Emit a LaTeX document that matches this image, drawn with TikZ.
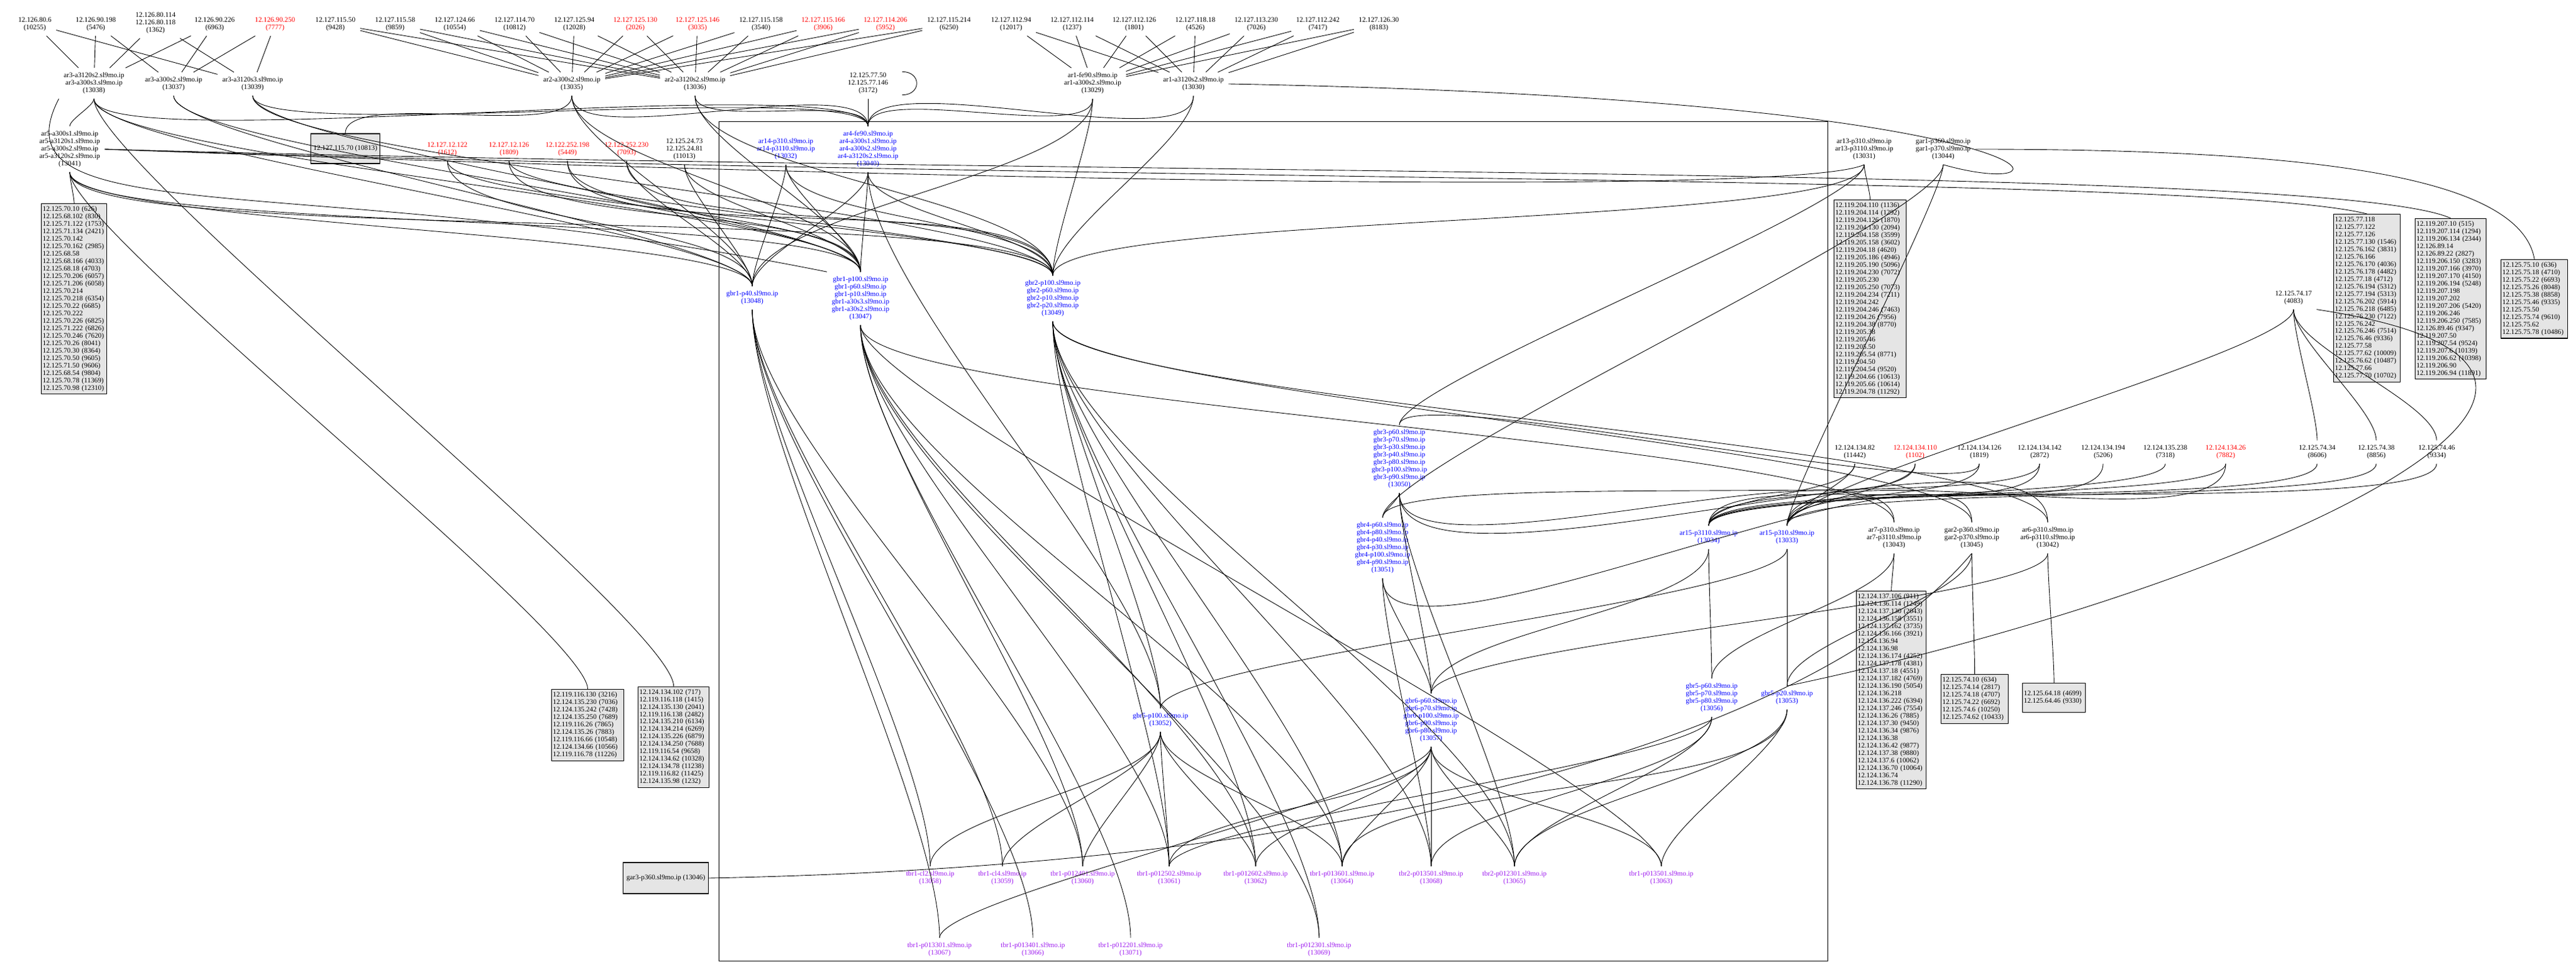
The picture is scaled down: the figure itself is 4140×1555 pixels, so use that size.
\documentclass[tikz,border=0pt]{standalone}
\usepackage{fontspec}
\setmainfont{Liberation Serif}
\usepackage{xcolor}
\usepackage{tikz}
\definecolor{boxgray}{HTML}{E5E5E5}
\definecolor{tbrviolet}{HTML}{A020F0}

\begin{document}
\begin{tikzpicture}[
			x = 0.1mm, y = -0.1mm,
			every node/.style = {font=\fontsize{3.2}{3.41}\selectfont, inner sep=2pt},
			host/.style = {align=center},
			core/.style = {align=center, text=blue},
			tbr/.style = {align=center, text=tbrviolet},
			ipbox/.style = {draw, fill=boxgray, align=left, anchor=north west, inner xsep=0.6pt, inner ysep=1.2pt, line width=0.3pt},
			link/.style = {line width=0.25pt},
			drop/.style = {out=270, in=90, looseness=0.5},
			flat/.style = {out=270, in=90, looseness=0.2}
			]

			\fill[white] (0,0) rectangle (4140,1555);
			\useasboundingbox (0,0) rectangle (4140,1555);

			\draw[line width=0.25pt] (1155,195) rectangle (2937,1545);

			% top row
			\foreach \n/\x/\ip/\col in {10255/56/12.126.80.6/black, 5476/154/12.126.90.198/black, 6963/345/12.126.90.226/black, 7777/442/12.126.90.250/red, 9428/539/12.127.115.50/black, 9859/635/12.127.115.58/black, 10554/731/12.127.124.66/black, 10812/827/12.127.114.70/black, 12028/923/12.127.125.94/black, 2026/1021/12.127.125.130/red, 3035/1121/12.127.125.146/red, 3540/1223/12.127.115.158/black, 3906/1323/12.127.115.166/red, 5952/1423/12.127.114.206/red, 6250/1525/12.127.115.214/black, 12017/1625/12.127.112.94/black, 1237/1723/12.127.112.114/black, 1801/1823/12.127.112.126/black, 4526/1921/12.127.118.18/black, 7026/2019/12.127.113.230/black, 7417/2118/12.127.112.242/black, 8183/2216/12.127.126.30/black}{
				\node[host, text=\col] (h\n) at (\x,39) {\ip\\(\n)};
			}
			\node[host] (h1362) at (250,37) {12.126.80.114\\12.126.80.118\\(1362)};

			\node[host] (r13038) at (151,134) {ar3-a3120s2.sl9mo.ip\\ar3-a300s3.sl9mo.ip\\(13038)};
			\node[host] (r13037) at (279,135) {ar3-a300s2.sl9mo.ip\\(13037)};
			\node[host] (r13039) at (406,135) {ar3-a3120s3.sl9mo.ip\\(13039)};
			\node[host] (r13035) at (919,135) {ar2-a300s2.sl9mo.ip\\(13035)};
			\node[host] (r13036) at (1117,135) {ar2-a3120s2.sl9mo.ip\\(13036)};
			\node[host] (h3172) at (1395,134) {12.125.77.50\\12.125.77.146\\(3172)};
			\node[host] (r13029) at (1756,134) {ar1-fe90.sl9mo.ip\\ar1-a300s2.sl9mo.ip\\(13029)};
			\node[host] (r13030) at (1918,135) {ar1-a3120s2.sl9mo.ip\\(13030)};

			\node[host] (r13041) at (112,240) {ar5-a300s1.sl9mo.ip\\ar5-a3120s1.sl9mo.ip\\ar5-a300s2.sl9mo.ip\\ar5-a3120s2.sl9mo.ip\\(13041)};
			\node[draw, fill=boxgray, minimum width=11.1mm, minimum height=4.8mm, inner sep=0.5pt, line width=0.3pt] (b10813) at (555,239) {12.127.115.70 (10813)};
			\foreach \n/\x/\ip in {1612/719/12.127.12.122, 1809/818/12.127.12.126, 5449/912/12.122.252.198, 7093/1007/12.122.252.230}{
				\node[host, text=red] (h\n) at (\x,240) {\ip\\(\n)};
			}
			\node[host] (h11013) at (1100,240) {12.125.24.73\\12.125.24.81\\(11013)};
			\node[core] (r13032) at (1263,240) {ar14-p310.sl9mo.ip\\ar14-p3110.sl9mo.ip\\(13032)};
			\node[core] (r13040) at (1395,240) {ar4-fe90.sl9mo.ip\\ar4-a300s1.sl9mo.ip\\ar4-a300s2.sl9mo.ip\\ar4-a3120s2.sl9mo.ip\\(13040)};
			\node[host] (r13031) at (2996,240) {ar13-p310.sl9mo.ip\\ar13-p3110.sl9mo.ip\\(13031)};
			\node[host] (r13044) at (3123,240) {gar1-p360.sl9mo.ip\\gar1-p370.sl9mo.ip\\(13044)};

			% cluster
			\node[core] (g13048) at (1209,479) {gbr1-p40.sl9mo.ip\\(13048)};
			\node[core] (g13047) at (1383,480) {gbr1-p100.sl9mo.ip\\gbr1-p60.sl9mo.ip\\gbr1-p10.sl9mo.ip\\gbr1-a30s3.sl9mo.ip\\gbr1-a30s2.sl9mo.ip\\(13047)};
			\node[core] (g13049) at (1692,480) {gbr2-p100.sl9mo.ip\\gbr2-p60.sl9mo.ip\\gbr2-p10.sl9mo.ip\\gbr2-p20.sl9mo.ip\\(13049)};
			\node[core] (g13050) at (2249,738) {gbr3-p60.sl9mo.ip\\gbr3-p70.sl9mo.ip\\gbr3-p30.sl9mo.ip\\gbr3-p40.sl9mo.ip\\gbr3-p80.sl9mo.ip\\gbr3-p100.sl9mo.ip\\gbr3-p90.sl9mo.ip\\(13050)};
			\node[core] (g13051) at (2222,881) {gbr4-p60.sl9mo.ip\\gbr4-p80.sl9mo.ip\\gbr4-p40.sl9mo.ip\\gbr4-p30.sl9mo.ip\\gbr4-p100.sl9mo.ip\\gbr4-p90.sl9mo.ip\\(13051)};
			\node[core] (r13034) at (2746,864) {ar15-p3110.sl9mo.ip\\(13034)};
			\node[core] (r13033) at (2872,864) {ar15-p310.sl9mo.ip\\(13033)};
			\node[core] (g13052) at (1865,1158) {gbr5-p100.sl9mo.ip\\(13052)};
			\node[core] (g13057) at (2300,1158) {gbr6-p60.sl9mo.ip\\gbr6-p70.sl9mo.ip\\gbr6-p100.sl9mo.ip\\gbr6-p90.sl9mo.ip\\gbr6-p80.sl9mo.ip\\(13057)};
			\node[core] (g13056) at (2751,1122) {gbr5-p60.sl9mo.ip\\gbr5-p70.sl9mo.ip\\gbr5-p80.sl9mo.ip\\(13056)};
			\node[core] (g13053) at (2872,1122) {gbr5-p20.sl9mo.ip\\(13053)};
			\foreach \n/\x/\nm in {13058/1495/tbr1-cl2, 13059/1611/tbr1-cl4, 13060/1740/tbr1-p012401, 13061/1879/tbr1-p012502, 13062/2018/tbr1-p012602, 13064/2157/tbr1-p013601, 13068/2300/tbr2-p013501, 13065/2434/tbr2-p012301, 13063/2670/tbr1-p013501}{
				\node[tbr] (t\n) at (\x,1412) {\nm.sl9mo.ip\\(\n)};
			}
			\foreach \n/\x/\nm in {13067/1510/tbr1-p013301, 13066/1660/tbr1-p013401, 13071/1817/tbr1-p012201, 13069/2120/tbr1-p012301}{
				\node[tbr] (t\n) at (\x,1527) {\nm.sl9mo.ip\\(\n)};
			}

			% right side
			\node[host] (h4083) at (3686,479) {12.125.74.17\\(4083)};
			\foreach \n/\x/\ip/\col in {11442/2981/12.124.134.82/black, 1102/3078/12.124.134.110/red, 1819/3181/12.124.134.126/black, 2872/3278/12.124.134.142/black, 5206/3380/12.124.134.194/black, 7318/3480/12.124.135.238/black, 7882/3577/12.124.134.26/red, 8606/3724/12.125.74.34/black, 8856/3819/12.125.74.38/black, 9334/3916/12.125.74.46/black}{
				\node[host, text=\col] (h\n) at (\x,727) {\ip\\(\n)};
			}
			\node[host] (r13043) at (3044,865) {ar7-p310.sl9mo.ip\\ar7-p3110.sl9mo.ip\\(13043)};
			\node[host] (r13045) at (3169,865) {gar2-p360.sl9mo.ip\\gar2-p370.sl9mo.ip\\(13045)};
			\node[host] (r13042) at (3291,865) {ar6-p310.sl9mo.ip\\ar6-p3110.sl9mo.ip\\(13042)};

			% address lists
			\node[ipbox, text width=10.1mm] (lst626) at (66,327) {12.125.70.10~(626)\\12.125.68.102~(830)\\12.125.71.122~(1753)\\12.125.71.134~(2421)\\12.125.70.142\\12.125.70.162~(2985)\\12.125.68.58\\12.125.68.166~(4033)\\12.125.68.18~(4703)\\12.125.70.206~(6057)\\12.125.71.206~(6058)\\12.125.70.214\\12.125.70.218~(6354)\\12.125.70.22~(6685)\\12.125.70.222\\12.125.70.226~(6825)\\12.125.71.222~(6826)\\12.125.70.246~(7620)\\12.125.70.26~(8041)\\12.125.70.30~(8364)\\12.125.70.50~(9605)\\12.125.71.50~(9606)\\12.125.68.54~(9804)\\12.125.70.78~(11369)\\12.125.70.98~(12310)};
			\node[ipbox, text width=11.2mm] (lst1136) at (2947,321) {12.119.204.110~(1136)\\12.119.204.114~(1292)\\12.119.204.126~(1870)\\12.119.204.130~(2094)\\12.119.204.158~(3599)\\12.119.205.158~(3602)\\12.119.204.18~(4620)\\12.119.205.186~(4946)\\12.119.205.190~(5096)\\12.119.204.230~(7072)\\12.119.205.230\\12.119.205.250~(7073)\\12.119.204.234~(7211)\\12.119.204.242\\12.119.204.246~(7463)\\12.119.204.26~(7956)\\12.119.204.38~(8770)\\12.119.205.38\\12.119.205.46\\12.119.205.50\\12.119.205.54~(8771)\\12.119.204.50\\12.119.204.54~(9520)\\12.119.204.66~(10613)\\12.119.205.66~(10614)\\12.119.204.78~(11292)};
			\node[ipbox, text width=10.3mm] (lst1546) at (3750,344) {12.125.77.118\\12.125.77.122\\12.125.77.126\\12.125.77.130~(1546)\\12.125.76.162~(3831)\\12.125.76.166\\12.125.76.170~(4036)\\12.125.76.178~(4482)\\12.125.77.18~(4712)\\12.125.76.194~(5312)\\12.125.77.194~(5313)\\12.125.76.202~(5914)\\12.125.76.218~(6485)\\12.125.76.230~(7122)\\12.125.76.242\\12.125.76.246~(7514)\\12.125.76.46~(9336)\\12.125.77.58\\12.125.77.62~(10009)\\12.125.76.62~(10487)\\12.125.77.66\\12.125.77.70~(10702)};
			\node[ipbox, text width=11.0mm] (lst515) at (3881,351) {12.119.207.10~(515)\\12.119.207.114~(1294)\\12.119.206.134~(2344)\\12.126.89.14\\12.126.89.22~(2827)\\12.119.206.150~(3283)\\12.119.207.166~(3970)\\12.119.207.170~(4150)\\12.119.206.194~(5248)\\12.119.207.198\\12.119.207.202\\12.119.207.206~(5420)\\12.119.206.246\\12.119.206.250~(7585)\\12.126.89.46~(9347)\\12.119.207.50\\12.119.207.54~(9524)\\12.119.207.6~(10139)\\12.119.206.62~(10398)\\12.119.206.90\\12.119.206.94~(11891)};
			\node[ipbox, text width=10.3mm] (lst636) at (4019,417) {12.125.75.10~(636)\\12.125.75.18~(4710)\\12.125.75.22~(6693)\\12.125.75.26~(8048)\\12.125.75.38~(8858)\\12.125.75.46~(9335)\\12.125.75.50\\12.125.75.74~(9610)\\12.125.75.62\\12.125.75.78~(10486)};
			\node[ipbox, text width=10.8mm] (lst911) at (2983,950) {12.124.137.106~(911)\\12.124.136.114~(1249)\\12.124.137.130~(2043)\\12.124.136.158~(3551)\\12.124.137.162~(3735)\\12.124.136.166~(3921)\\12.124.136.94\\12.124.136.98\\12.124.136.174~(4252)\\12.124.137.178~(4381)\\12.124.137.18~(4551)\\12.124.137.182~(4769)\\12.124.136.190~(5054)\\12.124.136.218\\12.124.136.222~(6394)\\12.124.137.246~(7554)\\12.124.136.26~(7885)\\12.124.137.30~(9450)\\12.124.136.34~(9876)\\12.124.136.38\\12.124.136.42~(9877)\\12.124.137.38~(9880)\\12.124.137.6~(10062)\\12.124.136.70~(10064)\\12.124.136.74\\12.124.136.78~(11290)};
			\node[ipbox, text width=10.4mm] (lst634) at (3119,1084) {12.125.74.10~(634)\\12.125.74.14~(2817)\\12.125.74.18~(4707)\\12.125.74.22~(6692)\\12.125.74.6~(10250)\\12.125.74.62~(10433)};
			\node[ipbox, text width=9.7mm, minimum height=4.7mm] (lst4699) at (3250,1098) {12.125.64.18~(4699)\\12.125.64.46~(9330)};
			\node[ipbox, anchor=south west, text width=11.2mm] (lst3216) at (886,1224) {12.119.116.130~(3216)\\12.124.135.230~(7036)\\12.124.135.242~(7428)\\12.124.135.250~(7689)\\12.119.116.26~(7865)\\12.124.135.26~(7883)\\12.119.116.66~(10548)\\12.124.134.66~(10566)\\12.119.116.78~(11226)};
			\node[ipbox, anchor=south west, text width=11.0mm] (lst717) at (1025,1267) {12.124.134.102~(717)\\12.119.116.118~(1415)\\12.124.135.130~(2041)\\12.119.116.138~(2482)\\12.124.135.210~(6134)\\12.124.134.214~(6269)\\12.124.135.226~(6879)\\12.124.134.250~(7688)\\12.119.116.54~(9658)\\12.124.134.62~(10328)\\12.124.134.78~(11238)\\12.119.116.82~(11425)\\12.124.135.98~(1232)};
			\node[draw, fill=boxgray, minimum width=13.7mm, minimum height=5mm, inner sep=0.5pt, line width=0.3pt] (r13046) at (1070,1412) {gar3-p360.sl9mo.ip (13046)};

			% links
			\foreach \a/\b in {h10255/r13038, h10255/r13039, h5476/r13038, h5476/r13037, h1362/r13038, h1362/r13039, h6963/r13038, h6963/r13037, h7777/r13039, h7777/r13037}{
				\draw[link] (\a) -- (\b);
			}
			\foreach \n in {9428,9859,10554,10812,12028,2026,3035,3540,3906,5952,6250}{
				\draw[link] (h\n) -- (r13035);
				\draw[link] (h\n) -- (r13036);
			}
			\foreach \n in {12017,1237,1801,4526,7026,7417,8183}{
				\draw[link] (h\n) -- (r13029);
				\draw[link] (h\n) -- (r13030);
			}

			\foreach \a/\b in {r13038/r13041, r13035/b10813, r13035/g13047, r13035/g13048, r13035/r13040, r13036/r13040, r13036/g13047, r13036/g13049, h3172/r13040, r13029/r13040, r13029/g13049, r13029/g13048, r13030/r13040, r13030/g13049, r13041/lst626, h1612/g13048, h1809/g13047, h5449/g13047, h5449/g13049, h7093/g13048, h7093/g13049, h11013/g13048, h11013/g13047, r13032/g13048, r13032/g13047, r13032/g13049, r13040/g13047, r13040/g13049, r13040/g13048, r13040/g13052, r13031/lst1136, h4083/h8606, h4083/h8856, h4083/h9334, h11442/r13034, h11442/r13033, h1102/r13034, h1102/r13033, h1819/r13033, h2872/r13034, h5206/r13033, h7882/r13033, g13050/r13043, g13050/r13042, g13051/r13045, r13043/g13056, r13045/g13053, r13043/lst911, r13045/lst634, r13042/lst4699, g13048/t13058, g13048/t13059, g13048/t13067, g13048/t13066, g13048/t13060, g13047/t13060, g13047/t13061, g13047/t13062, g13047/t13064, g13047/t13071, g13047/t13069, g13049/t13062, g13049/t13064, g13049/t13068, g13049/t13065, g13049/t13069, g13049/g13052, g13049/t13061, g13050/g13051, g13050/g13057, g13050/t13065, g13051/g13057, g13051/t13068, g13052/t13058, g13052/t13059, g13052/t13060, g13052/t13061, g13052/t13064, g13052/t13062, g13057/t13061, g13057/t13062, g13057/t13064, g13057/t13068, g13057/t13065, g13057/t13063, g13056/t13068, g13056/t13065, g13053/t13063, g13053/t13065, g13053/t13064, r13034/g13057, r13034/g13056, r13033/g13053}{
				\draw[link] (\a) to[drop] (\b);
			}
			\foreach \a/\b in {r13038/g13047, r13038/g13048, r13038/lst717, r13038/r13040, r13037/g13048, r13037/g13047, r13039/g13049, r13039/g13047, r13039/r13040, r13041/g13048, r13041/g13047, r13041/g13049, r13041/lst3216, h1612/g13049, h1809/g13049, r13031/g13049, r13031/g13050, r13044/g13051, r13044/r13033, h4083/r13033, h1819/g13050, h2872/g13051, h7318/r13034, h7882/r13034, h8606/r13034, h8856/r13033, h9334/r13034, g13049/r13045, g13049/r13042, g13047/r13043, r13042/g13057, g13047/t13063, g13057/t13067, g13056/t13061, r13033/g13052}{
				\draw[link] (\a) to[flat] (\b);
			}

			\draw[link] ([xshift=1.5mm,yshift=-0.6mm]h3172.north east) .. controls ([xshift=4.6mm,yshift=-0.6mm]h3172.north east) and ([xshift=4.6mm,yshift=0.6mm]h3172.south east) .. ([xshift=1.5mm,yshift=0.6mm]h3172.south east);
			\draw[link] (r13038.south west) .. controls (-20,380) and (500,270) .. (g13047.north west);
			\draw[link] (r13030.east) .. controls (3350,160) and (3350,330) .. (r13044.south);
			\draw[link] (r13044.east) .. controls (3700,240) and (4050,280) .. (lst636.north);
			\draw[link] (r13041.east) .. controls (1800,295) and (3550,280) .. (lst1546.north);
			\draw[link] (r13041.east) .. controls (1800,285) and (3750,265) .. (lst515.north);
			\draw[link] (r13041.east) .. controls (1800,300) and (2900,310) .. (r13031.south);
			\draw[link] (h4083.south east) .. controls (4400,600) and (3600,950) .. (g13053.north);
			\draw[link] (r13046.east) .. controls (2300,1390) and (2950,1150) .. (r13045.south);

		\end{tikzpicture}
\end{document}
